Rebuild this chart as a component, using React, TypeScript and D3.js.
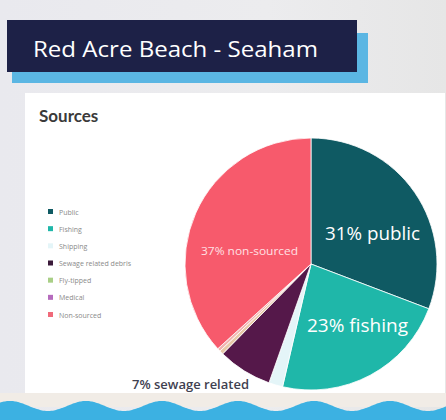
import React from "react";
import * as d3 from "d3";

const categories = ["Public", "Fishing", "Shipping", "Sewage related debris", "Fly-tipped", "Medical", "Non-sourced"];
const values = [31, 23, 1.8, 7, 0.5, 0.4, 37];
const colors = ["#0f5a63", "#1fb7a9", "#e4f5f8", "#55184a", "#e8c9a8", "#f0b4b0", "#f75a6c"];
const legendColors = ["#0f5a63", "#1fb7a9", "#e4f5f8", "#3b1a3a", "#a9cf86", "#b56bbd", "#f06a7a"];
const sliceLabels = ["31% public", "23% fishing", "", "7% sewage related", "", "", "37% non-sourced"];

const W = 446;
const H = 420;

export default function App() {
  const cx = 311, cy = 264, r = 126;
  const pie = d3.pie<number>().sort(null).value((d) => d);
  const arcs = pie(values);
  const arcGen = d3.arc<d3.PieArcDatum<number>>().innerRadius(0).outerRadius(r);

  const lx = d3.scalePoint<string>().domain(categories).range([212, 315]);

  // wave path
  const wave: [number, number][] = [];
  for (let x = 0; x <= W; x += 2) {
    wave.push([x, 406 - 5 * Math.cos(((x - 10) / 76) * 2 * Math.PI)]);
  }
  const waveLine = d3.line().curve(d3.curveBasis)(wave) + ` L${W},${H} L0,${H} Z`;

  return (
    <svg width={W} height={H} style={{ position: "absolute", left: 0, top: 0 }}>
      <defs>
        <linearGradient id="bg" x1="0" y1="0" x2="1" y2="0">
          <stop offset="0" stopColor="#e9e9ee" />
          <stop offset="0.6" stopColor="#ececee" />
          <stop offset="1" stopColor="#e6e6e6" />
        </linearGradient>
      </defs>
      <rect x={0} y={0} width={W} height={H} fill="url(#bg)" />
      {/* title banner */}
      <rect x={12} y={33} width={356} height={50} fill="#5bb6e3" />
      <rect x={7} y={20} width={350} height={52} fill="#1d2147" />
      <text x={33} y={57} fill="#ffffff" fontFamily="Open Sans, sans-serif" fontSize={22} textLength={285} lengthAdjust="spacingAndGlyphs">
        Red Acre Beach - Seaham
      </text>
      {/* panel */}
      <rect x={25} y={93} width={420} height={300} fill="#ffffff" />
      <rect x={0} y={393} width={W} height={14} fill="#f1ece6" />
      <text x={39} y={122} fill="#3a3a3a" fontFamily="Lato, sans-serif" fontWeight={700} fontSize={17}>
        Sources
      </text>
      {/* legend */}
      {categories.map((c, i) => (
        <g key={c}>
          <rect x={48} y={(lx(c) as number) - 3} width={5} height={5} fill={legendColors[i]} />
          <text x={59} y={(lx(c) as number) + 2.5} fontSize={7} fill="#8a8a8a" fontFamily="Open Sans, sans-serif">
            {c}
          </text>
        </g>
      ))}
      {/* pie */}
      <g transform={`translate(${cx},${cy})`}>
        {arcs.map((a, i) => (
          <path key={i} d={arcGen(a) as string} fill={colors[i]} stroke="#ffffff" strokeWidth={0.8} />
        ))}
      </g>
      <text x={325} y={240} fill="#ffffff" fontFamily="Open Sans, sans-serif" fontSize={18} textLength={95} lengthAdjust="spacingAndGlyphs">
        {sliceLabels[0]}
      </text>
      <text x={307} y={332} fill="#ffffff" fontFamily="Open Sans, sans-serif" fontSize={18} textLength={101} lengthAdjust="spacingAndGlyphs">
        {sliceLabels[1]}
      </text>
      <text x={201} y={254.5} fill="#ffe0e4" fontFamily="Open Sans, sans-serif" fontSize={10} textLength={97} lengthAdjust="spacingAndGlyphs">
        {sliceLabels[6]}
      </text>
      <text x={132} y={389} fill="#3f4150" fontFamily="Open Sans, sans-serif" fontWeight={600} fontSize={12} textLength={117} lengthAdjust="spacingAndGlyphs">
        {sliceLabels[3]}
      </text>
      <path d={waveLine} fill="#3cb1e2" />
    </svg>
  );
}
